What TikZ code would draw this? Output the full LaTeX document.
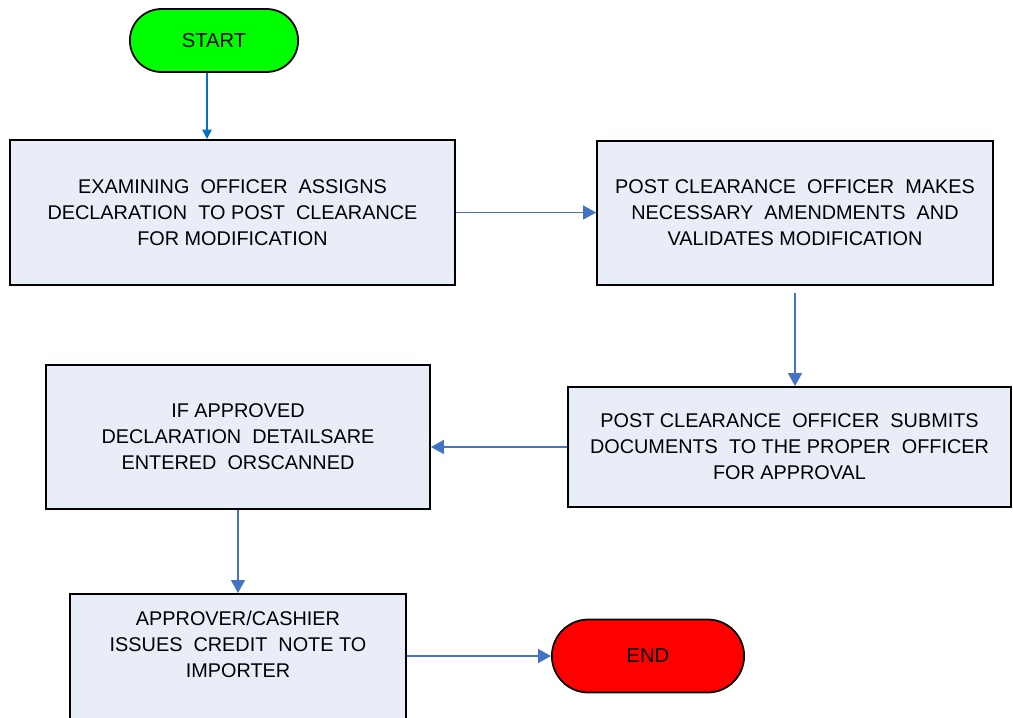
\documentclass[tikz,border=0pt]{standalone}
\usepackage{fontspec}
\setmainfont{Liberation Sans}
\usepackage{tikz}
\usetikzlibrary{positioning,shapes.misc,arrows.meta}

\definecolor{boxfill}{HTML}{E9EDF7}
\definecolor{flowblue}{HTML}{4472C4}
\definecolor{startblue}{HTML}{0070C0}

\begin{document}
\begin{tikzpicture}[
x=0.02cm,
y=-0.02cm,
terminal/.style={
  draw=black,
  rounded rectangle,
  line width=1pt,
  font=\fontsize{11.5}{14}\selectfont
  },
stepbox/.style={
  draw=black,
  fill=boxfill,
  rectangle,
  line width=1.1pt,
  align=center,
  font=\fontsize{11.3}{14.8}\selectfont
  },
flow/.style={
  draw=flowblue,
  line width=0.9pt,
  -{Triangle[length=0.26cm,width=0.28cm]}
  },
>=latex
]
\useasboundingbox (0,0) rectangle (1013,717);
\clip (0,0) rectangle (1013,717);

% terminals
\node[terminal, fill=green, minimum width=3.6cm, minimum height=1.26cm] (start) at (214,40.5) {START};
\node[terminal, fill=red, minimum width=4.08cm, minimum height=1.46cm] (finish) at (648,656) {END};

% process boxes
\node[stepbox, minimum width=8.9cm, minimum height=2.9cm] (assign) at (232.5,212.5)
  {EXAMINING \ OFFICER \ ASSIGNS\\DECLARATION \ TO POST \ CLEARANCE\\FOR MODIFICATION};
\node[stepbox, minimum width=7.92cm, minimum height=2.88cm] (amend) at (795,213)
  {POST CLEARANCE \ OFFICER \ MAKES\\NECESSARY \ AMENDMENTS \ AND\\VALIDATES MODIFICATION};
\node[stepbox, minimum width=8.86cm, minimum height=2.4cm] (submit) at (789.5,447)
  {POST CLEARANCE \ OFFICER \ SUBMITS\\DOCUMENTS \ TO THE PROPER \ OFFICER\\FOR APPROVAL};
\node[stepbox, minimum width=7.68cm, minimum height=2.88cm] (approved) at (238,437)
  {IF APPROVED\\DECLARATION \ DETAILSARE\\ENTERED \ ORSCANNED};
\node[stepbox, minimum width=6.72cm, minimum height=3.6cm, anchor=north] (issue) at (238,593) {};
\node[align=center, font=\fontsize{11.3}{14.8}\selectfont, anchor=north] (issuetext) at (238,605)
  {APPROVER/CASHIER\\ISSUES \ CREDIT \ NOTE TO\\IMPORTER};

% connectors
\draw[draw=startblue, line width=0.9pt, -{Triangle[length=0.19cm,width=0.19cm]}]
  ([xshift=-0.14cm]start.south) -- ([xshift=-0.14cm]start.south |- assign.north);
\draw[flow] (assign.east) -- (assign.east -| amend.west);
\draw[flow] ([yshift=-0.14cm]amend.south) -- (amend.south |- submit.north);
\draw[flow] (submit.west) -- (submit.west -| approved.east);
\draw[flow] (approved.south) -- (issue.north);
\draw[flow] (finish.west -| issue.east) -- (finish.west);
\end{tikzpicture}
\end{document}
